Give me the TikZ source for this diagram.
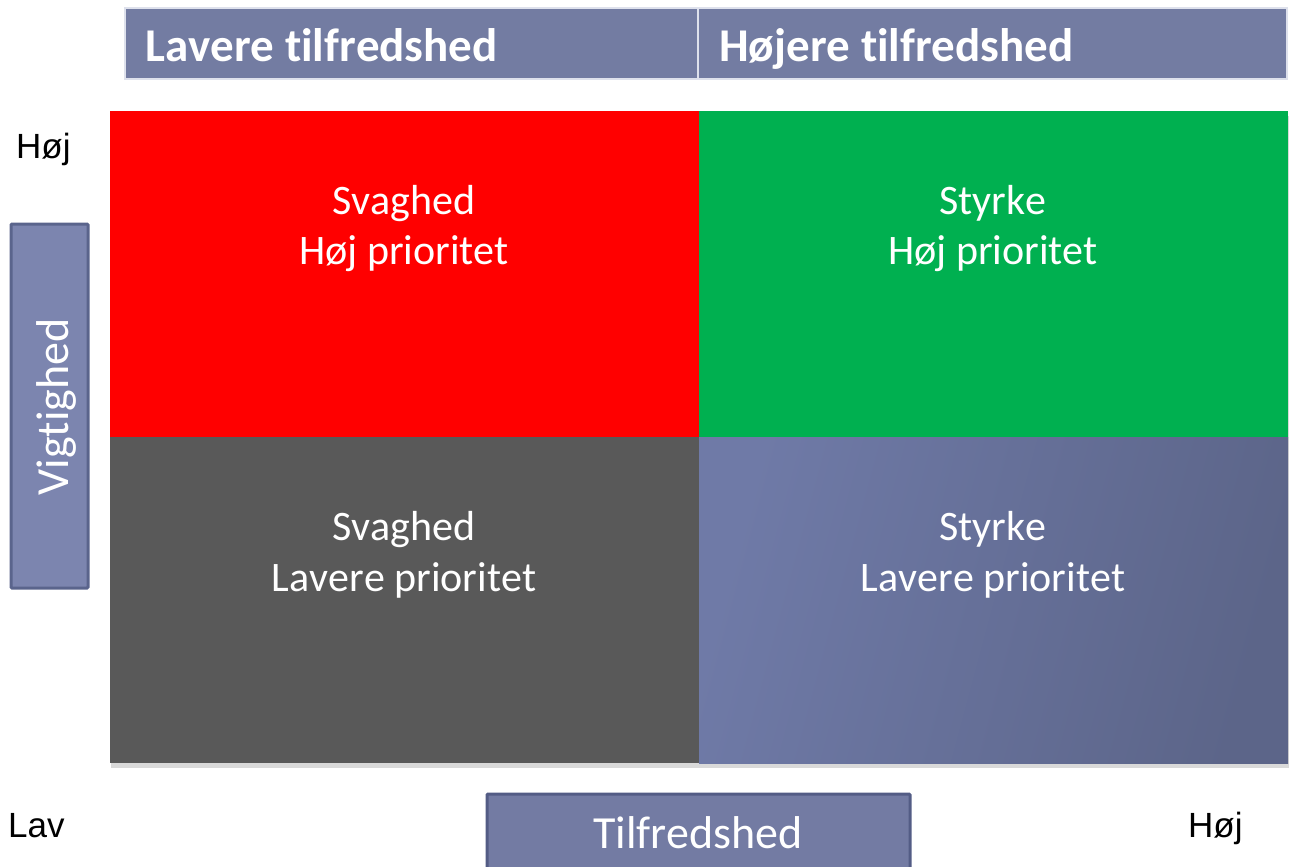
\documentclass[tikz,border=0pt]{standalone}
\usepackage{fontspec}
\setmainfont[Ligatures={NoCommon,NoContextual,NoRare},Contextuals=NoAlternate,Kerning=Off]{Carlito}
\newfontfamily\arialfont{Liberation Sans}
\usepackage{tikz}
\usetikzlibrary{shadows}
\definecolor{hdrblue}{RGB}{115,124,162}
\definecolor{hdrline}{RGB}{222,225,236}
\definecolor{boxblue}{RGB}{124,133,175}
\definecolor{boxline}{RGB}{90,100,140}
\definecolor{axblue}{RGB}{115,123,163}
\definecolor{axline}{RGB}{83,92,133}
\definecolor{qred}{RGB}{255,0,0}
\definecolor{qgreen}{RGB}{0,176,80}
\definecolor{qgray}{RGB}{89,89,89}
\definecolor{qblueL}{RGB}{111,122,167}
\definecolor{qblueD}{RGB}{92,101,137}

\begin{document}
\begin{tikzpicture}[
		x=1pt, y=-1pt,
		hdr/.style={anchor=base west,text=white,inner sep=0pt,font=\fontsize{47}{56}\selectfont\bfseries},
		qtext/.style={anchor=base,text=white,inner sep=0pt,font=\fontsize{42}{50}\selectfont},
		axtext/.style={anchor=base,text=white,inner sep=0pt,font=\fontsize{46}{54}\selectfont},
		lvl/.style={anchor=base west,inner sep=0pt,font=\arialfont\fontsize{35}{40}\selectfont}]
	\useasboundingbox (0,0) rectangle (1293,867);
	%% header
	\draw[fill=hdrblue,draw=hdrline,line width=2pt] (125,8) rectangle (698,79);
	\draw[fill=hdrblue,draw=hdrline,line width=2pt] (698,8) rectangle (1287,79);
	\node[hdr] (lowsat) at (145,62) {Lavere tilfredshed};
	\node[hdr] (highsat) at (719,62) {Højere tilfredshed};
	%% matrix
	\fill[white,drop shadow={opacity=0.3,shadow xshift=1pt,shadow yshift=-5pt}] (110,111) rectangle (1288,763);
	\fill[qred] (110,111) rectangle (699,437);
	\fill[qgreen] (699,111) rectangle (1288,437);
	\fill[qgray] (110,437) rectangle (699,763);
	\shade[left color=qblueL,right color=qblueD,shading angle=75] (699,437) rectangle (1288,763);
	%% quadrant texts
	\node[qtext] (weak1) at (404,214) {Svaghed};
	\node[qtext] (weak2) at (404,264) {Høj prioritet};
	\node[qtext] (strong1) at (993,214) {Styrke};
	\node[qtext] (strong2) at (993,264) {Høj prioritet};
	\node[qtext] (weak3) at (404,540) {Svaghed};
	\node[qtext] (weak4) at (404,591) {Lavere prioritet};
	\node[qtext] (strong3) at (993,540) {Styrke};
	\node[qtext] (strong4) at (993,591) {Lavere prioritet};
	%% axis boxes
	\draw[fill=boxblue,draw=boxline,line width=3pt,rounded corners=1pt] (11,224) rectangle (88,588);
	\node[axtext,rotate=90] (imp) at (68,407) {Vigtighed};
	\draw[fill=axblue,draw=axline,line width=3pt,rounded corners=1pt] (487,794) rectangle (910,880);
	\node[axtext] (sat) at (698,848) {Tilfredshed};
	%% levels
	\node[lvl] (imphigh) at (16,158) {Høj};
	\node[lvl] (satlow) at (8,837) {Lav};
	\node[lvl] (sathigh) at (1188,837) {Høj};
\end{tikzpicture}
\end{document}
